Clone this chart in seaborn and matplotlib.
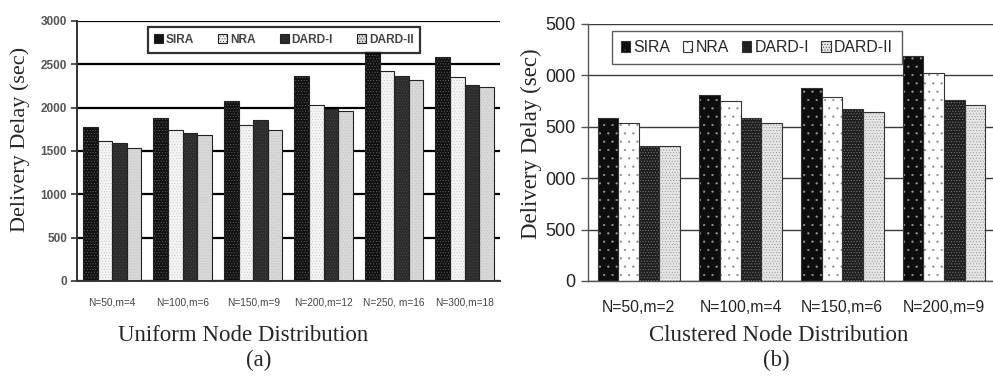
import pandas as pd
import matplotlib
matplotlib.use('Agg')
import matplotlib.pyplot as plt
from matplotlib.patches import Rectangle
import seaborn as sns

schemes = ['SIRA', 'NRA', 'DARD-I', 'DARD-II']

# (a) uniform node distribution
uni_groups = ['N=50,m=4', 'N=100,m=6', 'N=150,m=9', 'N=200,m=12', 'N=250, m=16', 'N=300,m=18']
uni_sira = [1780, 1880, 2080, 2360, 2650, 2580]
uni_nra = [1620, 1745, 1800, 2030, 2420, 2350]
uni_dard1 = [1590, 1710, 1860, 1985, 2360, 2265]
uni_dard2 = [1535, 1690, 1745, 1965, 2320, 2240]
uni_yticks = [0, 500, 1000, 1500, 2000, 2500, 3000]
uni_yticklabels = ['0', '500', '1000', '1500', '2000', '2500', '3000']

# (b) clustered node distribution
clu_groups = ['N=50,m=2', 'N=100,m=4', 'N=150,m=6', 'N=200,m=9']
clu_sira = [1590, 1810, 1875, 2185]
clu_nra = [1535, 1750, 1790, 2025]
clu_dard1 = [1315, 1585, 1675, 1760]
clu_dard2 = [1315, 1535, 1645, 1710]
clu_yticks = [0, 500, 1000, 1500, 2000, 2500]
clu_yticklabels = ['0', '500', '000', '500', '000', '500']  # first digit cut off in the figure


def to_long(groups, cols):
    rows = []
    for name, vals in zip(schemes, cols):
        for g, v in zip(groups, vals):
            rows.append({'group': g, 'scheme': name, 'delay': v})
    return pd.DataFrame(rows)


def style_bars(ax, styles, edge):
    for cont, (fc, hc, hatch) in zip(ax.containers, styles):
        for p in cont.patches:
            p.set_facecolor(fc)
            p.set_hatch(hatch)
            if hasattr(p, 'set_hatchcolor'):
                p.set_edgecolor(edge)
                p.set_hatchcolor(hc)
            else:
                # hatch follows edge color -> draw the outline separately
                p.set_edgecolor(hc)
                p.set_linewidth(0)
                ax.add_patch(Rectangle(p.get_xy(), p.get_width(), p.get_height(),
                                       fill=False, edgecolor=edge, lw=0.8, zorder=p.get_zorder()))


def legend_handles(styles, edge):
    hs = []
    for fc, hc, hatch in styles:
        r = Rectangle((0, 0), 1, 1, facecolor=fc, edgecolor=edge, lw=0.8, hatch=hatch)
        if hasattr(r, 'set_hatchcolor'):
            r.set_hatchcolor(hc)
        hs.append(r)
    return hs


sns.set_style('white')
plt.rcParams['font.family'] = ['Liberation Sans', 'DejaVu Sans']
plt.rcParams['hatch.linewidth'] = 0.35
serif = 'Liberation Serif'

fig = plt.figure(figsize=(9.93, 3.76), dpi=100)

# ---------- panel (a) ----------
ax1 = fig.add_axes([0.0775, 0.2527, 0.426, 0.6915])
df1 = to_long(uni_groups, [uni_sira, uni_nra, uni_dard1, uni_dard2])
sns.barplot(data=df1, x='group', y='delay', hue='scheme', width=0.83, ax=ax1,
            edgecolor='#222222', linewidth=0.9, legend=False, errorbar=None)
styles1 = [('#111111', '#6a6a6a', '......'), ('#f4f4f4', '#c8c8c8', '......'),
           ('#2c2c2c', '#4a4a4a', '......'), ('#d8d8d8', '#c4c4c4', '......')]
style_bars(ax1, styles1, '#222222')
ax1.set_ylim(0, 3000)
ax1.set_xlim(-0.5, 5.39)
ax1.set_axisbelow(True)
ax1.yaxis.grid(True, color='black', lw=1.6)
ax1.set_yticks(uni_yticks)
ax1.set_yticklabels(uni_yticklabels, fontsize=8.5, color='#555555', fontweight='bold')
ax1.set_xticks(range(len(uni_groups)))
ax1.set_xticklabels(uni_groups, fontsize=7.3, color='#444444')
ax1.set_xticks([i - 0.5 for i in range(len(uni_groups) + 1)], minor=True)
ax1.tick_params(axis='x', which='major', length=0, pad=12)
ax1.tick_params(axis='x', which='minor', length=5, width=1.2, color='#333333')
ax1.tick_params(axis='y', length=4, width=1.2, color='#333333', left=True, pad=3)
for s in ['top', 'right']:
    ax1.spines[s].set_visible(False)
for s in ['left', 'bottom']:
    ax1.spines[s].set_color('#333333')
    ax1.spines[s].set_linewidth(1.4)
ax1.set_xlabel('')
ax1.set_ylabel('Delivery Delay (sec)', fontsize=16, family=serif)
ax1.yaxis.set_label_coords(-0.112, 0.545)
leg1 = ax1.legend(legend_handles(styles1, '#222222'), schemes, loc='upper center',
                  bbox_to_anchor=(0.489, 0.975), ncol=4, fontsize=8.6, frameon=True, fancybox=False,
                  handlelength=0.75, handleheight=0.8, handletextpad=0.25, columnspacing=2.0,
                  borderpad=0.55, borderaxespad=0)
leg1.get_frame().set_edgecolor('black')
leg1.get_frame().set_linewidth(1.6)
leg1.set_zorder(5)
for t in leg1.get_texts():
    t.set_color('#444444')
    t.set_fontweight('bold')
fig.text(0.245, 0.108, 'Uniform Node Distribution', family=serif, fontsize=16.5, ha='center', va='center')
fig.text(0.261, 0.042, '(a)', family=serif, fontsize=16.5, ha='center', va='center')

# ---------- panel (b) ----------
ax2 = fig.add_axes([0.592, 0.2527, 0.41, 0.6835])
df2 = to_long(clu_groups, [clu_sira, clu_nra, clu_dard1, clu_dard2])
sns.barplot(data=df2, x='group', y='delay', hue='scheme', width=0.81, ax=ax2,
            edgecolor='#333333', linewidth=0.9, legend=False, errorbar=None)
styles2 = [('#0d0d0d', '#9a9a9a', '..'), ('white', '#8a8a8a', '..'),
           ('#1e1e1e', '#8c8c8c', '......'), ('#e6e6e6', '#8a8a8a', '......')]
style_bars(ax2, styles2, '#333333')
ax2.set_ylim(0, 2500)
ax2.set_xlim(-0.5, 3.39)
ax2.set_axisbelow(True)
ax2.yaxis.grid(True, color='#3a3a3a', lw=1.0)
ax2.set_yticks(clu_yticks)
ax2.set_yticklabels(clu_yticklabels, fontsize=13, color='#222222')
ax2.set_xticks(range(len(clu_groups)))
ax2.set_xticklabels(clu_groups, fontsize=11.3, color='#222222')
ax2.set_xticks([i - 0.5 for i in range(len(clu_groups) + 1)], minor=True)
ax2.tick_params(axis='x', which='major', length=0, pad=14)
ax2.tick_params(axis='x', which='minor', length=5, width=1.0, color='#555555')
ax2.tick_params(axis='y', length=5, width=1.0, color='#555555', left=True, pad=4)
for s in ['top', 'right']:
    ax2.spines[s].set_visible(False)
for s in ['left', 'bottom']:
    ax2.spines[s].set_color('#555555')
    ax2.spines[s].set_linewidth(1.0)
ax2.set_xlabel('')
ax2.set_ylabel('Delivery Delay (sec)', fontsize=16.5, family=serif)
ax2.yaxis.set_label_coords(-0.112, 0.535)
leg2 = ax2.legend(legend_handles(styles2, '#333333'), schemes, loc='upper center',
                  bbox_to_anchor=(0.415, 0.972), ncol=4, fontsize=11.4, frameon=True, fancybox=False,
                  handlelength=0.6, handleheight=0.7, handletextpad=0.2, columnspacing=0.8,
                  borderpad=0.55, borderaxespad=0)
leg2.get_frame().set_edgecolor('#333333')
leg2.get_frame().set_linewidth(1.0)
leg2.set_zorder(5)
fig.text(0.784, 0.108, 'Clustered Node Distribution', family=serif, fontsize=16.5, ha='center', va='center')
fig.text(0.782, 0.042, '(b)', family=serif, fontsize=16.5, ha='center', va='center')

fig.savefig('out.png', dpi=100, facecolor='white')
